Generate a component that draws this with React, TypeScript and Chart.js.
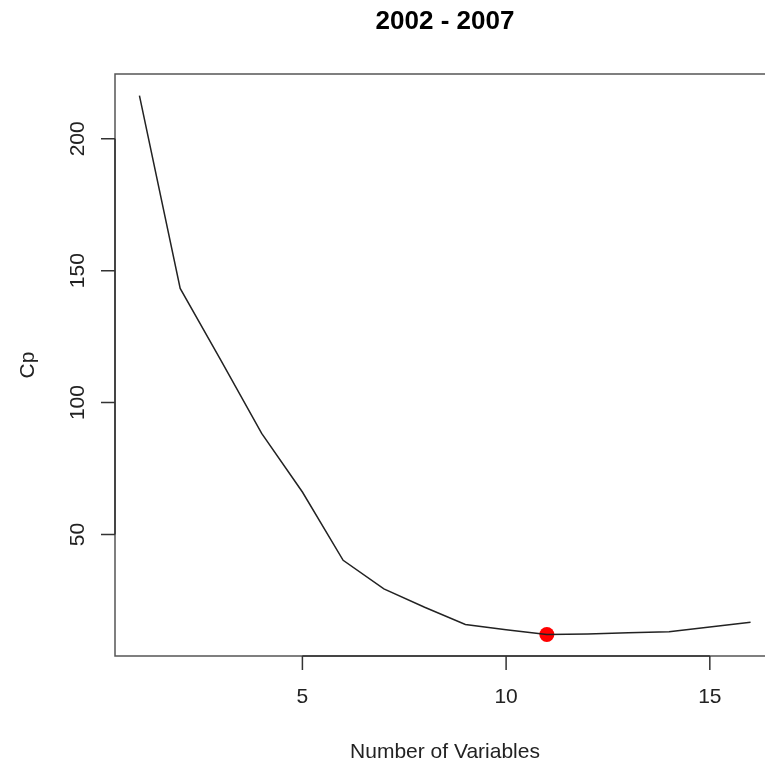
import React, { useEffect, useRef } from "react";
import { Chart, registerables } from "chart.js";

Chart.register(...registerables);

const numVars = [1, 2, 3, 4, 5, 6, 7, 8, 9, 10, 11, 12, 13, 14, 15, 16];
const cpValues = [216.4, 143.3, 116, 88.3, 66.1, 40.2, 29.4, 22.4, 15.9, 13.9, 12.1, 12.3, 12.7, 13.1, 14.9, 16.7];
const xTicks = [5, 10, 15];
const yTicks = [50, 100, 150, 200];
const titleText = "2002 - 2007";
const xLabel = "Number of Variables";
const yLabel = "Cp";

const FONT = "'Liberation Sans', Arial, Helvetica, sans-serif";

export default function App() {
  const ref = useRef<HTMLCanvasElement | null>(null);

  useEffect(() => {
    if (!ref.current) return;
    let minIdx = 0;
    cpValues.forEach((v, i) => {
      if (v < cpValues[minIdx]) minIdx = i;
    });
    const lo = Math.min(...cpValues);
    const hi = Math.max(...cpValues);
    const yPad = (hi - lo) * 0.04;
    const xLo = Math.min(...numVars);
    const xHi = Math.max(...numVars);
    const xPad = (xHi - xLo) * 0.04;

    const rPlot = {
      id: "rplot",
      afterDraw(chart: any) {
        const ctx = chart.ctx;
        const a = chart.chartArea;
        const xs = chart.scales.x;
        const ys = chart.scales.y;
        ctx.save();
        // box
        ctx.strokeStyle = "#555";
        ctx.lineWidth = 1.5;
        ctx.strokeRect(a.left, a.top, a.right - a.left, a.bottom - a.top);
        // axes
        ctx.strokeStyle = "#333";
        ctx.lineWidth = 1.5;
        const x0 = xs.getPixelForValue(xTicks[0]);
        const x1 = xs.getPixelForValue(xTicks[xTicks.length - 1]);
        ctx.beginPath();
        ctx.moveTo(x0, a.bottom);
        ctx.lineTo(x1, a.bottom);
        xTicks.forEach((t) => {
          const px = xs.getPixelForValue(t);
          ctx.moveTo(px, a.bottom);
          ctx.lineTo(px, a.bottom + 14);
        });
        const y0 = ys.getPixelForValue(yTicks[0]);
        const y1 = ys.getPixelForValue(yTicks[yTicks.length - 1]);
        ctx.moveTo(a.left, y0);
        ctx.lineTo(a.left, y1);
        yTicks.forEach((t) => {
          const py = ys.getPixelForValue(t);
          ctx.moveTo(a.left, py);
          ctx.lineTo(a.left - 14, py);
        });
        ctx.stroke();

        ctx.fillStyle = "#222";
        ctx.font = `21px ${FONT}`;
        ctx.textAlign = "center";
        ctx.textBaseline = "middle";
        xTicks.forEach((t) => {
          ctx.fillText(String(t), xs.getPixelForValue(t), 697);
        });
        yTicks.forEach((t) => {
          ctx.save();
          ctx.translate(78, ys.getPixelForValue(t));
          ctx.rotate(-Math.PI / 2);
          ctx.fillText(String(t), 0, 0);
          ctx.restore();
        });
        const cx = (a.left + a.right) / 2;
        ctx.fillText(xLabel, cx, 752);
        ctx.save();
        ctx.translate(28, (a.top + a.bottom) / 2);
        ctx.rotate(-Math.PI / 2);
        ctx.fillText(yLabel, 0, 0);
        ctx.restore();
        ctx.fillStyle = "#000";
        ctx.font = `bold 26px ${FONT}`;
        ctx.fillText(titleText, cx, 22);
        ctx.restore();
      },
    };

    const chart = new Chart(ref.current, {
      type: "line",
      data: {
        datasets: [
          {
            label: "Cp",
            data: numVars.map((x, i) => ({ x, y: cpValues[i] })),
            borderColor: "#222",
            borderWidth: 1.5,
            pointRadius: 0,
            tension: 0,
            fill: false,
          },
          {
            label: "min",
            data: [{ x: numVars[minIdx], y: cpValues[minIdx] }],
            showLine: false,
            pointRadius: 7.5,
            pointBackgroundColor: "#ff0000",
            pointBorderColor: "#ff0000",
            pointBorderWidth: 0,
          },
        ],
      },
      options: {
        animation: false,
        responsive: true,
        maintainAspectRatio: false,
        layout: { padding: { top: 74, right: 15, left: 0, bottom: 0 } },
        plugins: {
          legend: { display: false },
          tooltip: { enabled: false },
          title: { display: false },
        },
        scales: {
          x: {
            type: "linear",
            min: xLo - xPad,
            max: xHi + xPad,
            ticks: { display: false },
            grid: { display: false },
            border: { display: false },
            afterFit: (s: any) => {
              s.height = 107;
            },
          },
          y: {
            type: "linear",
            min: lo - yPad,
            max: hi + yPad,
            ticks: { display: false },
            grid: { display: false },
            border: { display: false },
            afterFit: (s: any) => {
              s.width = 115;
            },
          },
        },
      },
      plugins: [rPlot],
    });
    return () => chart.destroy();
  }, []);

  return (
    <div
      style={{
        position: "fixed",
        left: 0,
        top: 0,
        width: 765,
        height: 763,
        overflow: "hidden",
        background: "#fff",
      }}
    >
      <div style={{ position: "relative", width: 790, height: 763 }}>
        <canvas ref={ref} />
      </div>
    </div>
  );
}
